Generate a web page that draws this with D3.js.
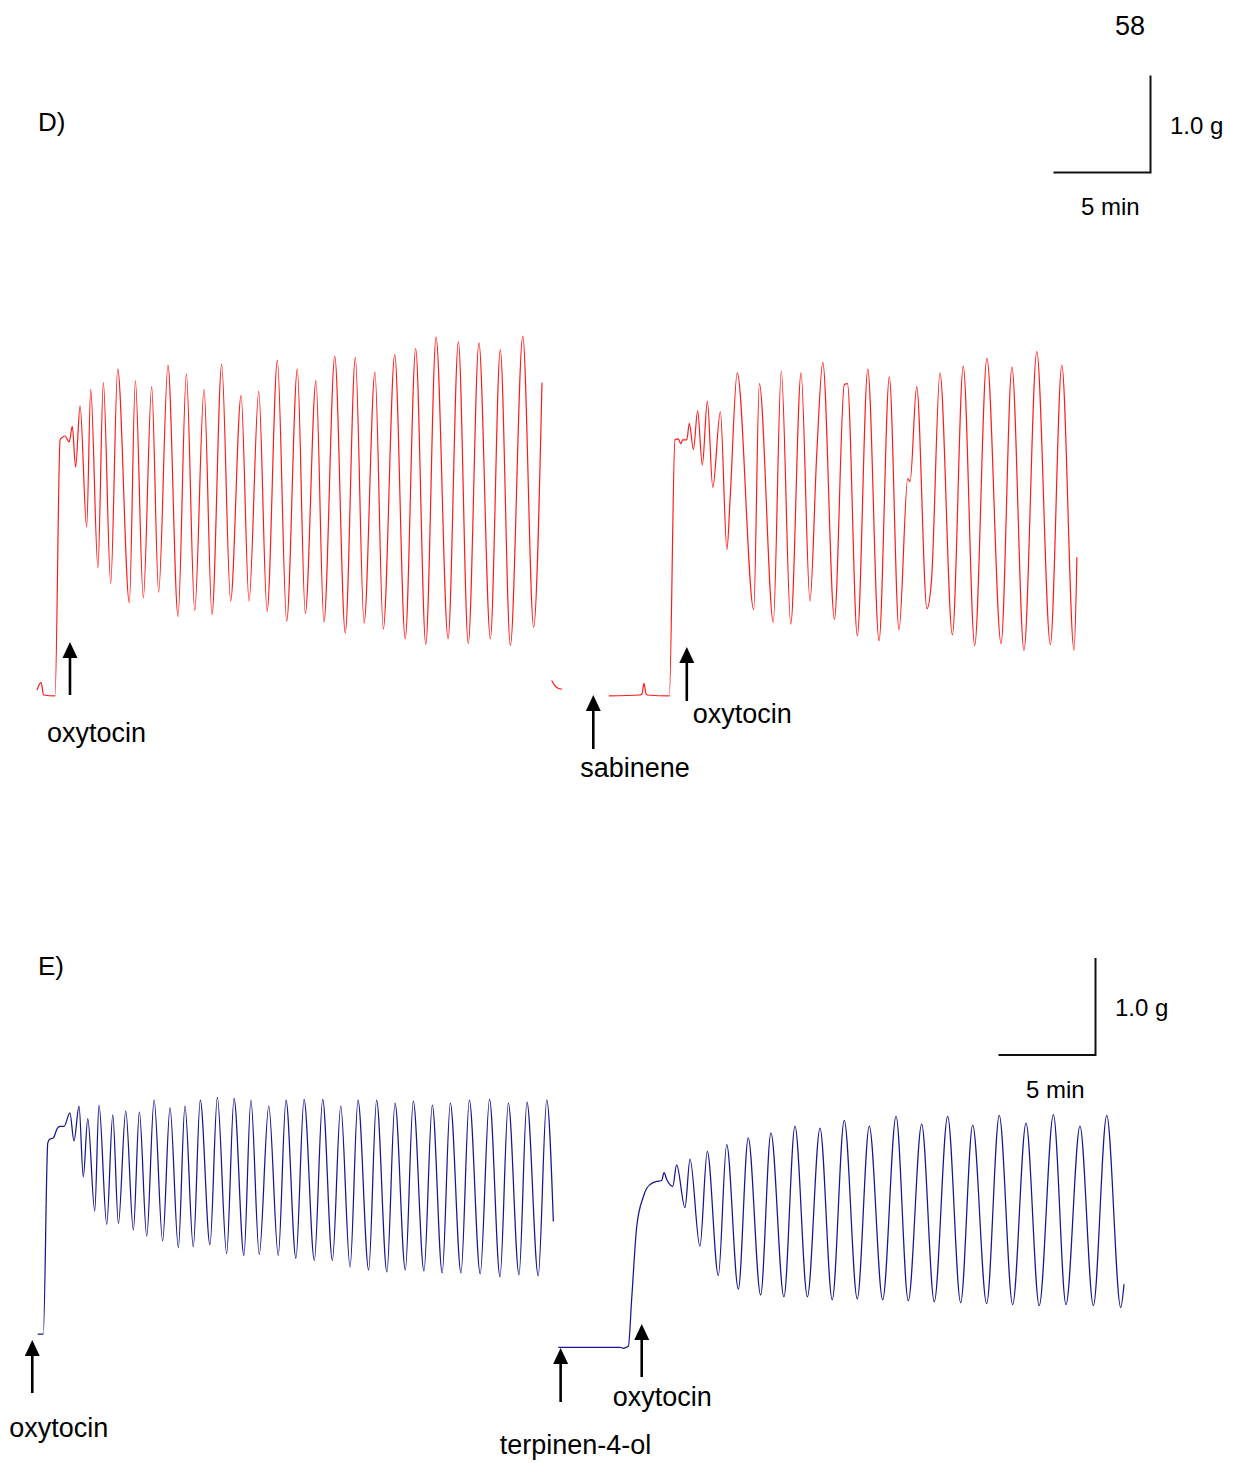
<!DOCTYPE html>
<html><head><meta charset="utf-8">
<script src="https://cdn.jsdelivr.net/npm/d3@7"></script>
<style>
html,body{margin:0;padding:0;background:#fff;}
svg{display:block;font-family:"Liberation Sans",Arial,sans-serif;}
</style></head>
<body><svg id="chart" width="1244" height="1463"></svg>
<script>
// ---------- DATA (time in min, tension in g, turning points) ----------
const dLeftTime = [0,0.21,0.34,0.93,1.19,1.27,1.44,1.66,1.82,1.99,2.22,2.56,2.77,3.14,3.42,3.80,4.16,4.76,5.07,5.48,5.91,6.27,6.75,7.27,7.70,8.13,8.61,9.02,9.52,9.98,10.52,10.93,11.43,11.86,12.39,12.87,13.42,13.83,14.38,14.79,15.35,15.89,16.41,16.86,17.42,17.85,18.44,18.98,19.52,20.04,20.57,21.19,21.72,22.23,22.78,23.37,23.88,24.40,25.04,25.60,26.03];
const dLeftTension = [0.05,0.13,0.00,-0.01,2.63,2.65,2.67,2.61,2.77,2.35,2.98,1.73,3.15,1.31,3.22,1.15,3.36,0.95,3.24,1.00,3.18,1.06,3.40,0.81,3.31,0.87,3.15,0.83,3.41,0.97,3.09,0.97,3.13,0.86,3.45,0.76,3.36,0.84,3.24,0.75,3.49,0.64,3.48,0.74,3.33,0.68,3.51,0.58,3.57,0.52,3.69,0.58,3.64,0.53,3.63,0.58,3.56,0.51,3.70,0.70,3.22];
const dWashTime = [26.53,26.68,26.86,27.05];
const dWashTension = [0.15,0.10,0.07,0.06];
const dRightTime = [0,1.60,1.70,1.80,1.91,1.97,3.11,3.40,3.57,3.70,3.80,4.01,4.14,4.35,4.57,4.81,5.07,5.35,5.74,6.08,6.24,6.61,7.46,7.75,8.47,8.88,9.37,9.90,10.36,10.71,11.02,11.62,12.13,12.29,12.80,13.34,13.92,14.45,14.95,15.40,15.52,15.86,16.39,16.63,17.06,17.70,18.26,18.85,19.48,20.21,20.77,21.39,22.05,22.75,23.34,23.97,24.12];
const dRightTension = [-0.01,0.00,0.01,0.12,0.01,0.00,-0.01,2.63,2.64,2.59,2.63,2.63,2.80,2.53,2.93,2.37,3.03,2.14,2.92,1.50,2.01,3.32,0.88,3.21,0.75,3.34,0.73,3.32,0.97,2.49,3.43,0.78,3.20,3.21,0.61,3.36,0.56,3.28,0.67,2.23,2.20,3.18,0.89,1.20,3.32,0.62,3.39,0.51,3.47,0.53,3.38,0.46,3.54,0.52,3.40,0.46,1.42];
const eLeftTime = [0,0.29,0.52,0.63,0.80,1.01,1.15,1.36,1.66,1.87,2.13,2.35,2.58,2.94,3.16,3.56,3.87,4.16,4.54,4.93,5.24,5.62,6.00,6.44,6.82,7.25,7.59,8.02,8.38,8.88,9.26,9.74,10.12,10.63,10.99,11.42,11.91,12.40,12.80,13.31,13.73,14.26,14.69,15.19,15.62,16.10,16.51,17.06,17.47,18.00,18.42,18.95,19.36,19.91,20.34,20.85,21.27,21.82,22.25,22.81,23.29,23.83,24.26,24.81,25.22,25.80,26.24,26.58];
const eLeftTension = [0,0,1.97,2.01,2.02,2.12,2.14,2.14,2.28,1.99,2.35,1.62,2.22,1.27,2.36,1.13,2.26,1.14,2.30,1.07,2.29,1.01,2.41,0.96,2.33,0.89,2.35,0.90,2.41,0.92,2.44,0.83,2.43,0.81,2.41,0.82,2.35,0.81,2.41,0.78,2.42,0.76,2.42,0.76,2.35,0.69,2.41,0.66,2.41,0.64,2.38,0.66,2.40,0.65,2.36,0.63,2.38,0.63,2.41,0.62,2.42,0.59,2.38,0.61,2.39,0.60,2.41,1.16];
const eRightTime = [0,3.18,3.35,3.61,3.78,4.04,4.38,4.56,4.91,5.07,5.33,5.45,5.59,5.90,6.10,6.53,6.79,7.30,7.68,8.25,8.68,9.28,9.79,10.43,10.96,11.63,12.20,12.84,13.49,14.12,14.74,15.41,16.03,16.72,17.41,18.04,18.73,19.38,20.07,20.74,21.36,22.08,22.73,23.42,24.11,24.79,25.52,26.17,26.89,27.58,28.27,28.99,29.16];
const eRightTension = [0,0,-0.01,0.01,0.49,1.24,1.55,1.64,1.70,1.71,1.72,1.80,1.73,1.66,1.88,1.44,1.94,1.04,2.02,0.74,2.09,0.60,2.16,0.54,2.21,0.52,2.28,0.52,2.26,0.49,2.34,0.50,2.28,0.49,2.38,0.48,2.30,0.47,2.38,0.46,2.29,0.45,2.39,0.44,2.31,0.43,2.40,0.44,2.28,0.43,2.39,0.41,0.65];

const dLeftEventTimes = [1.70];   const dLeftEventLabels = ["oxytocin"];
const dRightEventTimes = [-0.81, 4.01]; const dRightEventLabels = ["sabinene","oxytocin"];
const eLeftEventTimes = [-0.28];  const eLeftEventLabels = ["oxytocin"];
const eRightEventTimes = [0.12, 4.30]; const eRightEventLabels = ["terpinen-4-ol","oxytocin"];

const panelLabels = ["D)","E)"];
const scaleBarMinutes = 5, scaleBarGrams = 1.0;
const scaleBarLabels = ["5 min","1.0 g"];
const pageNumber = "58";

// ---------- LAYOUT ----------
const svg = d3.select("#chart");
const PX_PER_MIN = 19.4, PX_PER_G = 97;
function scales(x0, yb){
  return {
    x: d3.scaleLinear().domain([0, scaleBarMinutes]).range([x0, x0 + PX_PER_MIN*scaleBarMinutes]),
    y: d3.scaleLinear().domain([0, scaleBarGrams]).range([yb, yb - PX_PER_G*scaleBarGrams])
  };
}
function trace(times, vals, sc, color, w){
  const line = d3.line().x(d=>sc.x(d[0])).y(d=>sc.y(d[1])).curve(d3.curveMonotoneX);
  svg.append("path").attr("d", line(times.map((t,i)=>[t, vals[i]])))
    .attr("fill","none").attr("stroke",color).attr("stroke-width",w).attr("stroke-linejoin","round");
}
function arrow(x, tipY, bottomY){
  svg.append("line").attr("x1",x).attr("x2",x).attr("y1",tipY+12).attr("y2",bottomY)
    .attr("stroke","#000").attr("stroke-width",2.6);
  svg.append("path").attr("d",`M${x},${tipY}L${x-7.5},${tipY+16}L${x+7.5},${tipY+16}Z`).attr("fill","#000");
}
function label(txt, x, y, size){
  svg.append("text").attr("x",x).attr("y",y).attr("font-size",size).attr("fill","#000").text(txt);
}
function scaleBar(sc, cornerX, cornerY, lblG, lblMin){
  const w = sc.x(scaleBarMinutes) - sc.x(0), h = sc.y(0) - sc.y(scaleBarGrams);
  svg.append("path").attr("d",`M${cornerX-w},${cornerY}H${cornerX}V${cornerY-h}`)
    .attr("fill","none").attr("stroke","#111").attr("stroke-width",2);
  label(scaleBarLabels[1], lblG[0], lblG[1], 24);
  label(scaleBarLabels[0], lblMin[0], lblMin[1], 24);
}

// page number and panel labels
label(pageNumber, 1115, 35, 27);
label(panelLabels[0], 38, 131, 26);
label(panelLabels[1], 38, 975, 26);

// ----- Panel D -----
const RED = "#ff1a1a";
const sDL = scales(37, 695), sDR = scales(609, 695);
trace(dLeftTime, dLeftTension, sDL, RED, 1.2);
trace(dWashTime, dWashTension, sDL, RED, 1.2);
trace(dRightTime, dRightTension, sDR, RED, 1.2);
scaleBar(sDL, 1150.5, 172.5, [1170, 134], [1081, 215]);

{ const x = sDL.x(dLeftEventTimes[0]); arrow(x, 642, 695); label(dLeftEventLabels[0], x-23, 742, 27); }
{ const x = sDR.x(dRightEventTimes[0]); arrow(x, 695, 749); label(dRightEventLabels[0], x-13, 777, 27); }
{ const x = sDR.x(dRightEventTimes[1]); arrow(x, 647, 701); label(dRightEventLabels[1], x+6, 723, 27); }

// ----- Panel E -----
const BLUE = "#161690";
const sEL = scales(37.7, 1334), sER = scales(558.3, 1347.3);
trace(eLeftTime, eLeftTension, sEL, BLUE, 1.25);
trace(eRightTime, eRightTension, sER, BLUE, 1.25);
scaleBar(sEL, 1095.5, 1055, [1115, 1016], [1026, 1098]);

{ const x = sEL.x(eLeftEventTimes[0]); arrow(x, 1340, 1393); label(eLeftEventLabels[0], x-23, 1437, 27); }
{ const x = sER.x(eRightEventTimes[0]); arrow(x, 1348, 1402); label(eRightEventLabels[0], x-61, 1454, 27); }
{ const x = sER.x(eRightEventTimes[1]); arrow(x, 1324, 1377); label(eRightEventLabels[1], x-29, 1406, 27); }
</script></body></html>
